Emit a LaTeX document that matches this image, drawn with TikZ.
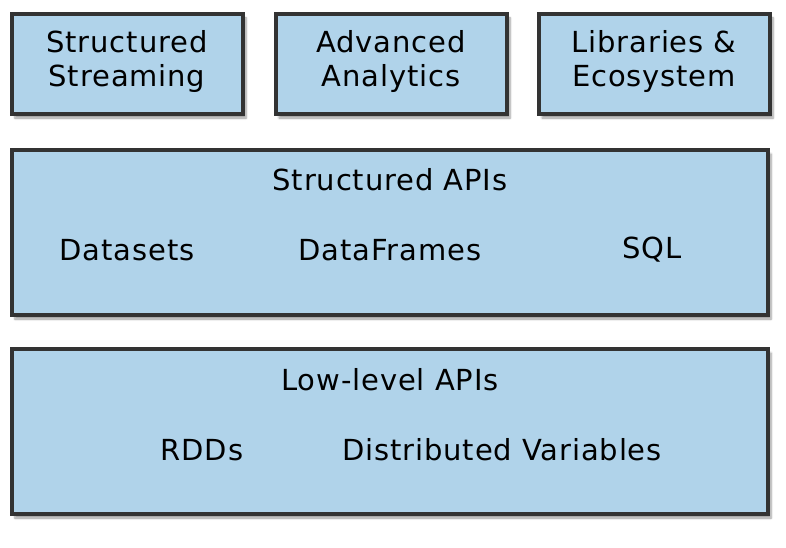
\documentclass[tikz,border=0pt]{standalone}
\usepackage{fontspec}
\setmainfont[LetterSpace=3]{DejaVu Sans}
\usetikzlibrary{shadows.blur}
\definecolor{boxfill}{HTML}{B0D3EA}
\definecolor{boxline}{HTML}{333333}
\begin{document}
\begin{tikzpicture}[x=1pt,y=-1pt,
  layer/.style={draw=boxline,fill=boxfill,line width=3.5pt,
    blur shadow={shadow xshift=3pt,shadow yshift=-4pt,shadow blur steps=6,shadow opacity=40}},
  lbl/.style={font=\fontsize{29}{34}\selectfont,text=black,align=center,inner sep=0pt}]
\useasboundingbox (0,0) rectangle (786,548);
% top row of components
\path[layer] (12,14) rectangle (243,114);
\path[layer] (276,14) rectangle (507,114);
\path[layer] (539,14) rectangle (770,114);
% structured and low-level layers
\path[layer] (12,150) rectangle (768,315);
\path[layer] (12,349) rectangle (768,514);
\node[lbl] (ss) at (127,62) {Structured\\Streaming};
\node[lbl] (aa) at (391,62) {Advanced\\Analytics};
\node[lbl] (le) at (654,62) {Libraries \&\\Ecosystem};
\node[lbl] (sapi) at (390,180) {Structured APIs};
\node[lbl] (ds) at (127,250) {Datasets};
\node[lbl] (df) at (390,250) {DataFrames};
\node[lbl] (sql) at (652,250) {SQL};
\node[lbl] (lapi) at (390,380) {Low-level APIs};
\node[lbl] (rdd) at (202,450) {RDDs};
\node[lbl] (dv) at (502,450) {Distributed Variables};
\end{tikzpicture}
\end{document}
